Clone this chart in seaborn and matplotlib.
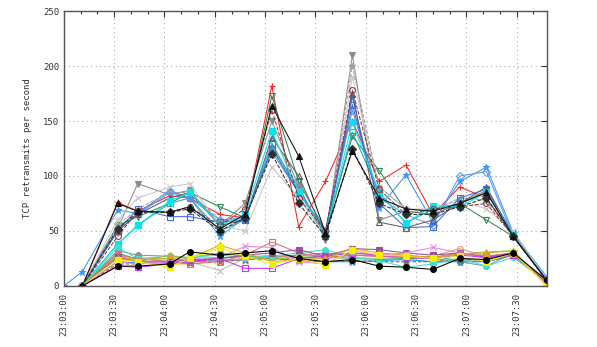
import matplotlib
matplotlib.use("Agg")
import matplotlib.pyplot as plt
from matplotlib.ticker import MultipleLocator
import seaborn as sns

# ---------------- data ----------------
# seconds after 23:03:00
TIME_S = [11, 32, 44, 63, 75, 93, 108, 124, 140, 156, 172, 188, 204, 220, 236, 252, 268, 288]
TIME_S_EARLY = [0] + TIME_S

TICK_SECONDS = [0, 30, 60, 90, 120, 150, 180, 210, 240, 270]
TICK_LABELS = ["23:03:00", "23:03:30", "23:04:00", "23:04:30", "23:05:00",
               "23:05:30", "23:06:00", "23:06:30", "23:07:00", "23:07:30"]
Y_LABEL = "TCP retransmits per second"

# upper group of hosts
red_plus      = [0, 76, 68, 82, 80, 65, 62, 182, 54, 95, 150, 95, 110, 65, 90, 80, 45, 5]
blue_star     = [0, 13, 69, 66, 87, 80, 45, 62, 126, 90, 45, 172, 71, 101, 58, 95, 108, 48, 8]
green_tri_dn  = [0, 55, 63, 75, 85, 72, 62, 173, 95, 50, 136, 105, 68, 65, 75, 60, 45, 5]
black_tri_up  = [0, 75, 68, 67, 72, 52, 65, 164, 118, 48, 123, 80, 70, 68, 75, 85, 45, 5]
gray_tri_dn   = [0, 52, 93, 83, 87, 55, 75, 150, 90, 42, 210, 60, 68, 65, 75, 87, 48, 5]
cyan_square   = [0, 38, 55, 77, 85, 55, 65, 141, 85, 48, 149, 85, 57, 73, 72, 85, 46, 5]
brown_circle  = [0, 45, 68, 67, 72, 55, 70, 160, 80, 50, 178, 88, 65, 70, 72, 75, 45, 5]
blue_square   = [0, 50, 70, 63, 63, 58, 60, 125, 85, 50, 165, 75, 53, 54, 80, 88, 45, 5]
ltgray_x      = [0, 60, 80, 90, 93, 55, 50, 108, 80, 45, 190, 90, 70, 70, 78, 70, 50, 5]
gray_star     = [0, 55, 70, 85, 85, 60, 60, 125, 85, 48, 200, 90, 70, 68, 80, 78, 45, 5]
teal_square   = [0, 38, 55, 75, 80, 50, 60, 130, 85, 48, 140, 85, 57, 70, 75, 85, 45, 5]
blue_diamond  = [0, 50, 65, 85, 80, 60, 62, 122, 85, 50, 160, 80, 65, 55, 100, 104, 45, 5]
dgray_tri_up  = [0, 50, 65, 80, 85, 55, 60, 135, 100, 45, 175, 58, 53, 60, 75, 90, 45, 5]
black_diamond = [0, 52, 67, 67, 70, 50, 62, 120, 75, 45, 125, 75, 65, 65, 72, 80, 45, 5]

# lower group of hosts
ltgray_low    = [0, 30, 24, 23, 22, 14, 25, 26, 25, 27, 26, 25, 24, 22, 25, 22, 28, 5]
gray_circle   = [0, 32, 28, 27, 25, 30, 27, 26, 28, 30, 28, 27, 25, 25, 22, 18, 30, 5]
green_low     = [0, 30, 24, 25, 23, 25, 27, 27, 28, 26, 25, 24, 25, 27, 23, 22, 28, 3]
blue_low      = [0, 22, 21, 21, 22, 23, 24, 25, 23, 22, 22, 23, 24, 22, 22, 22, 28, 3]
brown_low     = [0, 20, 20, 22, 24, 22, 24, 25, 24, 22, 23, 22, 22, 22, 24, 24, 28, 3]
lime_low      = [0, 26, 24, 25, 26, 30, 27, 24, 27, 28, 30, 28, 27, 26, 29, 31, 32, 0]
orange_circle = [0, 28, 22, 20, 20, 23, 25, 28, 26, 25, 28, 27, 26, 27, 34, 27, 30, 3]
teal_low      = [0, 35, 25, 27, 26, 28, 26, 27, 30, 33, 26, 23, 17, 20, 25, 18, 26, 3]
salmon_square = [0, 28, 25, 22, 20, 22, 28, 40, 30, 26, 28, 27, 27, 26, 30, 27, 30, 3]
purple_square = [0, 26, 22, 22, 24, 25, 28, 30, 33, 27, 34, 33, 30, 28, 30, 26, 30, 3]
pink_x        = [0, 22, 20, 22, 25, 26, 36, 35, 22, 20, 32, 28, 30, 35, 30, 25, 28, 3]
magenta_sq    = [0, 18, 17, 20, 22, 25, 16, 16, 25, 27, 30, 28, 26, 25, 28, 26, 28, 3]
gold_tri      = [0, 25, 22, 28, 25, 37, 30, 22, 24, 25, 34, 30, 28, 26, 29, 30, 32, 0]
yellow_square = [0, 24, 22, 17, 25, 35, 27, 20, 25, 19, 33, 28, 27, 25, 27, 22, 30, 0]
black_circle  = [0, 18, 18, 20, 31, 28, 30, 32, 25, 22, 24, 18, 17, 15, 25, 24, 30, 5]

SERIES = [
    ("red_plus", TIME_S, red_plus),
    ("blue_star", TIME_S_EARLY, blue_star),
    ("green_tri_dn", TIME_S, green_tri_dn),
    ("gray_tri_dn", TIME_S, gray_tri_dn),
    ("ltgray_x", TIME_S, ltgray_x),
    ("gray_star", TIME_S, gray_star),
    ("teal_square", TIME_S, teal_square),
    ("blue_diamond", TIME_S, blue_diamond),
    ("dgray_tri_up", TIME_S, dgray_tri_up),
    ("blue_square", TIME_S, blue_square),
    ("cyan_square", TIME_S, cyan_square),
    ("brown_circle", TIME_S, brown_circle),
    ("black_diamond", TIME_S, black_diamond),
    ("black_tri_up", TIME_S, black_tri_up),
    ("ltgray_low", TIME_S, ltgray_low),
    ("gray_circle", TIME_S, gray_circle),
    ("green_low", TIME_S, green_low),
    ("blue_low", TIME_S, blue_low),
    ("brown_low", TIME_S, brown_low),
    ("lime_low", TIME_S, lime_low),
    ("orange_circle", TIME_S, orange_circle),
    ("teal_low", TIME_S, teal_low),
    ("salmon_square", TIME_S, salmon_square),
    ("purple_square", TIME_S, purple_square),
    ("pink_x", TIME_S, pink_x),
    ("magenta_sq", TIME_S, magenta_sq),
    ("gold_tri", TIME_S, gold_tri),
    ("yellow_square", TIME_S, yellow_square),
    ("black_circle", TIME_S, black_circle),
]

# ---------------- styles ----------------
# name: (color, marker, filled, linestyle)
STYLES = {
    "red_plus": ("#ff2020", "+", True, "-"),
    "blue_star": ("#3399ff", "*", True, "-"),
    "green_tri_dn": ("#2e8b57", "v", False, "-"),
    "gray_tri_dn": ("#8c8c8c", "v", True, "-"),
    "ltgray_x": ("#c8c8c8", "x", True, "-"),
    "gray_star": ("#a0a0a0", "*", True, "--"),
    "teal_square": ("#20b2aa", "s", False, "-"),
    "blue_diamond": ("#6495ed", "D", False, "-"),
    "dgray_tri_up": ("#606060", "^", False, "-"),
    "blue_square": ("#4169e1", "s", False, "-"),
    "cyan_square": ("#00e5ee", "s", True, "-"),
    "brown_circle": ("#8b3a3a", "o", False, "--"),
    "black_diamond": ("#303030", "D", True, "--"),
    "black_tri_up": ("#111111", "^", True, "-"),
    "ltgray_low": ("#c0c0c0", "x", True, "-"),
    "gray_circle": ("#909090", "o", True, "-"),
    "green_low": ("#3cb371", "+", True, "-"),
    "blue_low": ("#1e90ff", "*", True, "-"),
    "brown_low": ("#a0522d", "x", True, "--"),
    "lime_low": ("#9acd32", "^", True, "-"),
    "orange_circle": ("#e9967a", "o", False, "-"),
    "teal_low": ("#40e0d0", "o", True, "-"),
    "salmon_square": ("#e07070", "s", False, "-"),
    "purple_square": ("#9b4f96", "s", True, "-"),
    "pink_x": ("#ee82ee", "x", True, "-"),
    "magenta_sq": ("#cc33ff", "s", False, "-"),
    "gold_tri": ("#daa520", "^", True, "-"),
    "yellow_square": ("#f0f000", "s", True, "-"),
    "black_circle": ("#000000", "o", True, "-"),
}

sns.set_style("white")
plt.rcParams['font.family'] = ['DejaVu Sans Mono', 'DejaVu Sans']

fig = plt.figure(figsize=(5.97, 3.47), dpi=100)
ax = fig.add_axes([0.107, 0.176, 0.809, 0.792])

for name, times, values in SERIES:
    color, marker, filled, ls = STYLES[name]
    kw = dict(markersize=4.2, markeredgewidth=0.8)
    if marker in "+x*":
        kw["markersize"] = 5
    if not filled:
        kw["markerfacecolor"] = "none"
    sns.lineplot(x=times, y=values, ax=ax, color=color, marker=marker,
                 linestyle=ls, linewidth=0.75, markeredgecolor=color, **kw)

ax.set_xlim(0, 288)
ax.set_ylim(0, 250)
ax.set_xticks(TICK_SECONDS)
ax.set_xticklabels(TICK_LABELS, rotation=90)
ax.xaxis.set_minor_locator(MultipleLocator(10))
ax.yaxis.set_major_locator(MultipleLocator(50))
ax.grid(True, which="major", linestyle=(0, (1, 3)), color="#aaaaaa", linewidth=0.8)
ax.tick_params(axis="both", which="both", direction="in", top=True, right=True,
               labelsize=6.5, colors="#333333", labelcolor="#333333")
ax.tick_params(axis="both", which="major", length=4, width=0.8)
ax.tick_params(axis="both", which="minor", length=2.5, width=0.8)
ax.tick_params(axis="x", pad=5)
ax.set_ylabel(Y_LABEL, fontsize=6.5, color="#333333", labelpad=8)
ax.set_xlabel("")
for sp in ax.spines.values():
    sp.set_color("#555555")
    sp.set_linewidth(1.0)

fig.savefig("out.png", dpi=100)
